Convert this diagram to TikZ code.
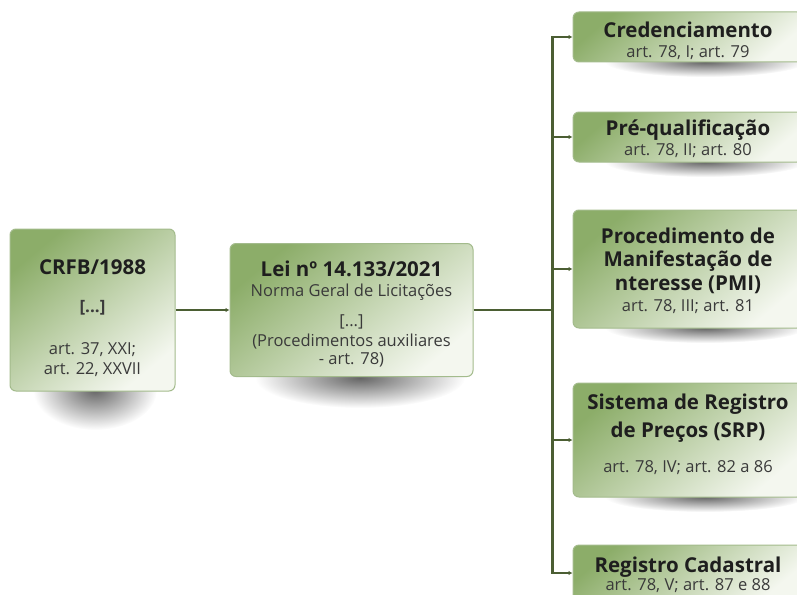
\documentclass[tikz,border=0pt]{standalone}
\usepackage{fontspec}
\setmainfont{Open Sans}
\usepackage{xcolor}
\definecolor{LinieGruen}{HTML}{4B5E33}
\definecolor{BoxDunkel}{HTML}{8CAD69}
\definecolor{BoxHell}{HTML}{F4F7EF}
\definecolor{BoxRand}{HTML}{A3BB8C}
\definecolor{TextGrau}{HTML}{3A3A3A}
\definecolor{TitelGrau}{HTML}{1E1E1E}
\usetikzlibrary{positioning,arrows.meta}
\newcommand{\titel}[1]{{\fontsize{20.5}{24}\selectfont\bfseries\color{TitelGrau}#1}}
\newcommand{\obenplatz}[1]{\rule{0pt}{#1}}
\newcommand{\untenplatz}[1]{\rule[-#1]{0pt}{#1}}

\begin{document}
\begin{tikzpicture}[
    x=1pt, y=-1pt,
    box/.style={rectangle, rounded corners=6pt, draw=BoxRand, line width=1pt, top color=BoxDunkel, bottom color=BoxHell, shading angle=40, align=center, inner sep=0pt, text=TextGrau, font=\fontsize{16.5}{20}\selectfont},
    link/.style={draw=LinieGruen, line width=2.4pt},
    tip/.style={-{Latex[length=4pt,width=4.5pt]}},
    shadow/.style={inner color=black!60, outer color=white},
]
\useasboundingbox (0,0) rectangle (797,594);
\clip (0,0) rectangle (797,594);

% Schatten
\shade[shadow] (95,390) ellipse [x radius=62pt, y radius=40pt];
\shade[shadow] (360,378) ellipse [x radius=105pt, y radius=30pt];
\foreach \y in {62,162,328,497}
  \shade[shadow] (705,\y) ellipse [x radius=100pt, y radius=15pt];

% Grundlagen
\node[box, minimum width=165, minimum height=162] (crfb) at (92.5,310)
    {\obenplatz{31pt}\titel{CRFB/1988}\\[18pt]{\fontsize{17}{20}\selectfont\bfseries [...]}\\[22pt]art. 37, XXI;\\art. 22, XXVII};
\node[box, minimum width=243, minimum height=133] (lei) at (351.5,310)
    {\obenplatz{23pt}\titel{Lei nº 14.133/2021}\\Norma Geral de Licitações\\[10pt][...]\\(Procedimentos auxiliares\\[-2pt]- art. 78)};

% Procedimentos auxiliares
\node[box, minimum width=230, minimum height=50] (cred) at (688,37)
    {\obenplatz{23pt}\titel{Credenciamento}\\art. 78, I; art. 79};
\node[box, minimum width=230, minimum height=50] (pre) at (688,137)
    {\obenplatz{19pt}\titel{Pré-qualificação}\\art. 78, II; art. 80};
\node[box, minimum width=230, minimum height=118] (pmi) at (688,269)
    {\obenplatz{19pt}\titel{Procedimento de}\\[3pt]\titel{Manifestação de}\\[4pt]\titel{nteresse (PMI)}\\[1pt]art. 78, III; art. 81};
\node[box, minimum width=230, minimum height=114] (srp) at (688,440)
    {\titel{Sistema de Registro}\\[7pt]\titel{de Preços (SRP)}\\[15pt]art. 78, IV; art. 82 a 86\untenplatz{14pt}};
\node[box, minimum width=230, minimum height=56] (reg) at (688,573)
    {\obenplatz{19pt}\titel{Registro Cadastral}\\[-2pt]art. 78, V; art. 87 e 88};

% Verbindungen
\coordinate (bus) at ([xshift=79pt]lei.east);
\draw[link, tip] (crfb.east) -- (lei.west);
\draw[link] (lei.east) -- (bus);
\foreach \ziel in {cred,pre,pmi,srp,reg}
  \draw[link, tip] (bus) |- (\ziel.west);

\end{tikzpicture}
\end{document}
